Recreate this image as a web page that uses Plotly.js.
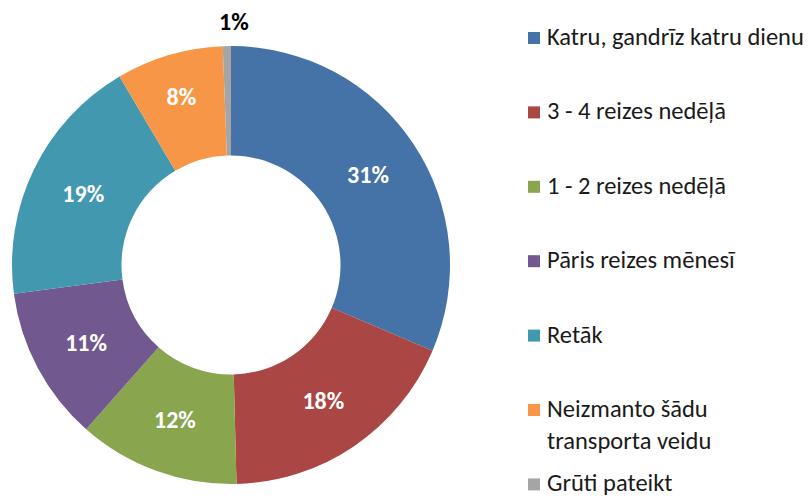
<!DOCTYPE html>
<html>
<head>
<meta charset="utf-8">
<script src="https://cdn.plot.ly/plotly-3.0.1.min.js"></script>
<style>html,body{margin:0;padding:0;background:#fff;}#chart{width:808px;height:498px;}</style>
</head>
<body>
<div id="chart"></div>
<script>
const labels = [
  "Katru, gandrīz katru dienu",
  "3 - 4 reizes nedēļā",
  "1 - 2 reizes nedēļā",
  "Pāris reizes mēnesī",
  "Retāk",
  "Neizmanto šādu<br>transporta veidu",
  "Grūti pateikt"
];
const values = [31.4, 18.2, 11.9, 11.4, 18.6, 7.9, 0.6];
const colors = ["#4572A7", "#AA4643", "#89A54E", "#71588F", "#4198AF", "#F79646", "#A5A5A5"];

const W = 808, H = 498;
const cx = 231, cy = 265, R = 219;
const FONT = "Carlito, 'Open Sans', 'Liberation Sans', sans-serif";
const LBL = 24, LEG = 24.5;

const total = values.reduce((a, b) => a + b, 0);
const small = values.map(v => v < 2);
const texts = values.map((v, i) => small[i] ? "" : Math.round(v / total * 100) + "%");

const trace = {
  type: "pie",
  labels: labels,
  values: values,
  sort: false,
  direction: "clockwise",
  rotation: 0,
  hole: 0.5,
  marker: {colors: colors, line: {width: 0}},
  text: texts,
  textinfo: "text",
  textposition: "inside",
  insidetextorientation: "horizontal",
  insidetextfont: {family: FONT, size: LBL, color: "#ffffff", weight: "bold"},
  showlegend: false,
  domain: {x: [(cx - R) / W, (cx + R) / W], y: [(H - cy - R) / H, (H - cy + R) / H]},
  hoverinfo: "label+percent"
};

const shapes = [];
const annotations = [];
values.forEach((v, i) => {
  if (small[i]) {
    annotations.push({
      xref: "paper", yref: "paper", x: 234 / W, y: 1 - 22 / H,
      xanchor: "center", yanchor: "middle", showarrow: false,
      text: Math.round(v / total * 100) + "%",
      font: {family: FONT, size: LBL, color: "#000000", weight: "bold"}
    });
  }
});
const rowY0 = 38, rowStep = 74.4;
labels.forEach((lab, i) => {
  const y = rowY0 + i * rowStep;
  shapes.push({
    type: "rect", xref: "paper", yref: "paper",
    x0: 528 / W, x1: 540 / W, y0: 1 - (y + 6) / H, y1: 1 - (y - 6) / H,
    fillcolor: colors[i], line: {width: 0}
  });
  annotations.push({
    xref: "paper", yref: "paper",
    x: 545 / W, y: 1 - (y - 18) / H,
    xanchor: "left", yanchor: "top", align: "left",
    text: lab, showarrow: false,
    font: {family: FONT, size: LEG, color: "#1a1a1a"}
  });
});

const layout = {
  width: W, height: H,
  margin: {l: 0, r: 0, t: 0, b: 0},
  paper_bgcolor: "#ffffff",
  showlegend: false,
  shapes: shapes,
  annotations: annotations
};

Plotly.newPlot("chart", [trace], layout, {displayModeBar: false, staticPlot: true});
</script>
</body>
</html>
